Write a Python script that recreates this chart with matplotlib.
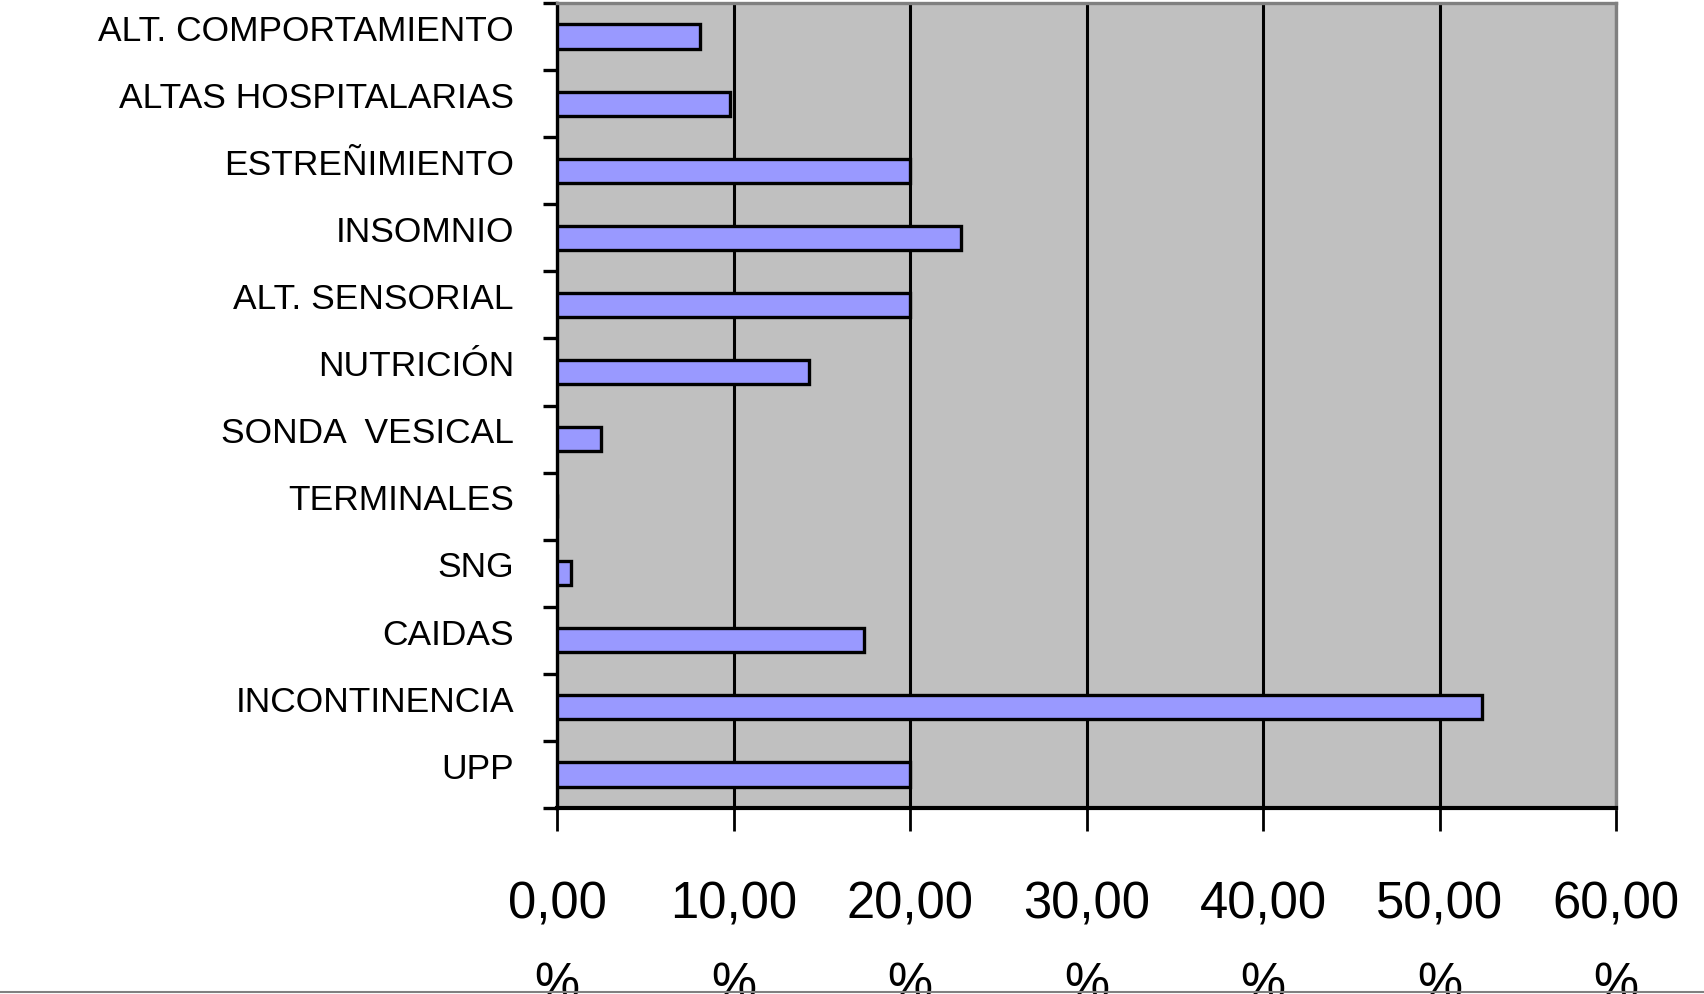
import matplotlib

matplotlib.use("Agg")
import matplotlib.pyplot as plt
from matplotlib.lines import Line2D

# categories from bottom to top, as they stack on the y axis
categories = [
    "UPP",
    "INCONTINENCIA",
    "CAIDAS",
    "SNG",
    "TERMINALES",
    "SONDA  VESICAL",
    "NUTRICIÓN",
    "ALT. SENSORIAL",
    "INSOMNIO",
    "ESTREÑIMIENTO",
    "ALTAS HOSPITALARIAS",
    "ALT. COMPORTAMIENTO",
]
percentages = [20.0, 52.4, 17.4, 0.8, 0.0, 2.5, 14.3, 20.0, 22.9, 20.0, 9.8, 8.1]
x_ticks = [0, 10, 20, 30, 40, 50, 60]
x_tick_labels = [f"{v},00\n%" for v in x_ticks]

BG = "#c0c0c0"
BAR = "#9999ff"
BORDER = "#808080"

plt.rcParams["font.family"] = ["Liberation Sans", "DejaVu Sans"]

fig = plt.figure(figsize=(17.04, 9.94), dpi=100, facecolor="white")
ax = fig.add_axes([0.3269, 0.1871, 0.6215, 0.8099])
ax.set_facecolor(BG)

ypos = list(range(len(categories)))
ax.barh(ypos, percentages, height=0.36, color=BAR, edgecolor="black",
        linewidth=2.4, zorder=3)

ax.set_xlim(0, 60)
ax.set_ylim(-0.5, len(categories) - 0.5)

# vertical gridlines behind bars
ax.set_xticks(x_ticks)
ax.set_xticklabels(x_tick_labels, fontsize=36.5, linespacing=1.83)
ax.xaxis.grid(True, color="black", linewidth=2.2, zorder=1)
ax.set_axisbelow(True)
ax.tick_params(axis="x", direction="out", length=16.5, width=2.0,
               color="black", pad=36)

# y ticks at category boundaries, labels in between
ax.set_yticks([i - 0.5 for i in range(len(categories) + 1)])
ax.set_yticklabels([])
ax.set_yticks([i + 0.13 for i in ypos], minor=True)
ax.set_yticklabels(categories, minor=True, fontsize=25.5)
ax.tick_params(axis="y", which="major", direction="out", length=10,
               width=2.4, color="black")
ax.tick_params(axis="y", which="minor", length=0, pad=31)

ax.spines["left"].set_color("black")
ax.spines["left"].set_linewidth(2.4)
ax.spines["bottom"].set_color("black")
ax.spines["bottom"].set_linewidth(3.0)
ax.spines["top"].set_color(BORDER)
ax.spines["top"].set_linewidth(2.4)
ax.spines["right"].set_color(BORDER)
ax.spines["right"].set_linewidth(2.4)

# frame line at the bottom of the canvas
fig.add_artist(Line2D([0, 1], [0.0025, 0.0025], transform=fig.transFigure,
                      color=BORDER, linewidth=1.5))

fig.savefig("out.png", dpi=100, facecolor="white")
